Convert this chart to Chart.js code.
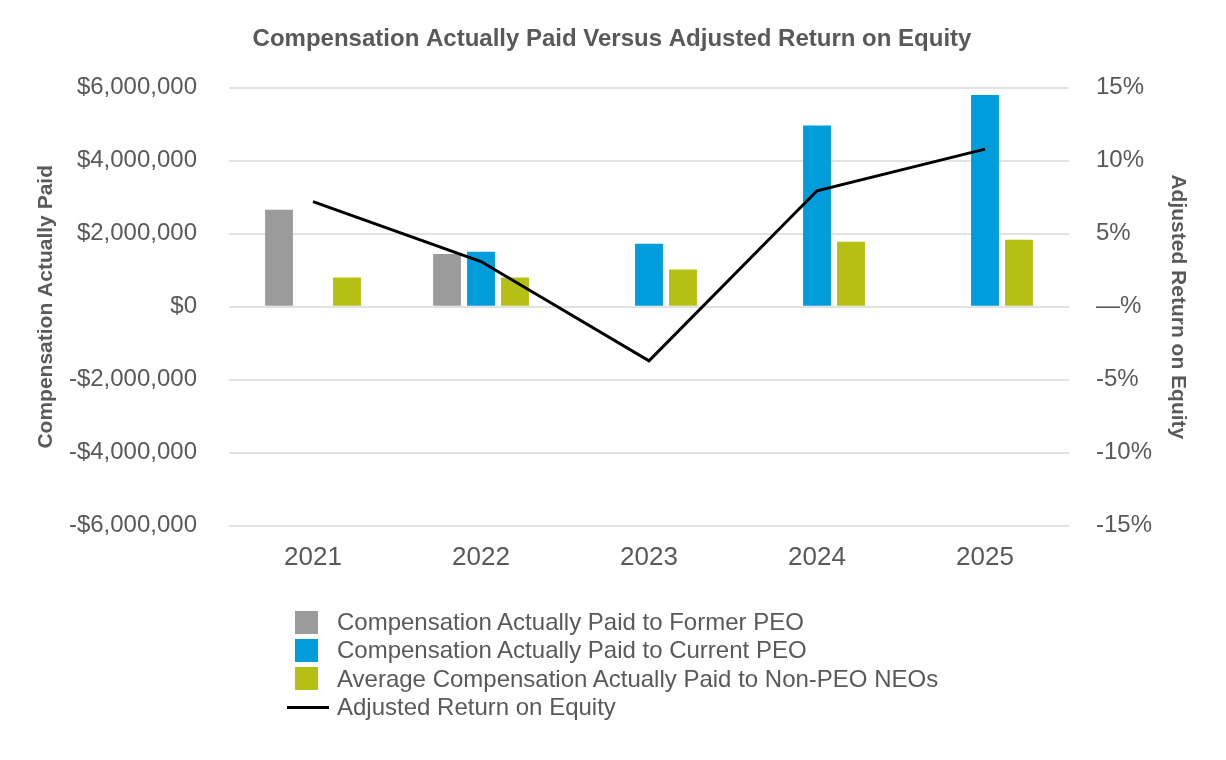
<!DOCTYPE html>
<html>
<head>
<meta charset="utf-8">
<script src="https://cdn.jsdelivr.net/npm/chart.js@4"></script>
<style>
  html, body { margin: 0; padding: 0; background: #fff; }
  #wrap { position: relative; width: 1226px; height: 760px; }
  #leyenda { position: absolute; left: 285px; top: 608px; font-family: "Liberation Sans", Arial, sans-serif; font-size: 24px; color: #595959; }
  .item { display: flex; align-items: center; height: 28.3px; white-space: nowrap; }
  .marca { width: 52px; display: flex; justify-content: flex-start; align-items: center; }
</style>
</head>
<body>
<div id="wrap">
  <canvas id="myChart" width="1226" height="760"></canvas>
  <div id="leyenda"></div>
</div>
<script>
var anios = ['2021', '2022', '2023', '2024', '2025'];
var capExPeo = [2660000, 1450000, null, null, null];   // Former PEO
var capActualPeo = [null, 1510000, 1730000, 4970000, 5800000]; // Current PEO
var capNoPeo = [800000, 800000, 1020000, 1780000, 1840000]; // Non-PEO NEOs
var roeAjustado = [7.2, 3.1, -3.7, 7.95, 10.8]; // Adjusted ROE (%)

var colorTexto = '#595959';
var fuente = '"Liberation Sans", Arial, sans-serif';

function formatoDolar(v) {
    if (v === 0) return '$0';
    var s = '$' + Math.abs(v).toLocaleString('en-US');
    return v < 0 ? '-' + s : s;
}

var ctx = document.getElementById('myChart').getContext('2d');
var myChart = new Chart(ctx, {
    type: 'bar',
    data: {
        labels: anios,
        datasets: [
            {
                label: 'Compensation Actually Paid to Former PEO',
                data: capExPeo,
                backgroundColor: '#9b9b9b',
                yAxisID: 'y',
                order: 1
            },
            {
                label: 'Compensation Actually Paid to Current PEO',
                data: capActualPeo,
                backgroundColor: '#009ddc',
                yAxisID: 'y',
                order: 1
            },
            {
                label: 'Average Compensation Actually Paid to Non-PEO NEOs',
                data: capNoPeo,
                backgroundColor: '#b6bf14',
                yAxisID: 'y',
                order: 1
            },
            {
                type: 'line',
                label: 'Adjusted Return on Equity',
                data: roeAjustado,
                borderColor: '#000000',
                backgroundColor: '#000000',
                borderWidth: 3,
                pointRadius: 0,
                tension: 0,
                yAxisID: 'y1',
                order: 0
            }
        ]
    },
    options: {
        responsive: false,
        animation: false,
        categoryPercentage: 0.607,
        barPercentage: 0.82,
        layout: { padding: { left: 30, right: 32, top: 10, bottom: 171 } },
        plugins: {
            legend: { display: false },
            tooltip: { enabled: false },
            title: {
                display: true,
                text: 'Compensation Actually Paid Versus Adjusted Return on Equity',
                color: colorTexto,
                font: { family: fuente, size: 24, weight: 'bold' },
                padding: { top: 15, bottom: 34 }
            }
        },
        scales: {
            x: {
                grid: { display: false, drawTicks: false },
                border: { display: false },
                ticks: { color: colorTexto, font: { family: fuente, size: 26 }, padding: 16 }
            },
            y: {
                position: 'left',
                min: -6000000,
                max: 6000000,
                afterFit: function (scale) { scale.width = 199; },
                ticks: {
                    stepSize: 2000000,
                    color: colorTexto,
                    font: { family: fuente, size: 24 },
                    padding: 32,
                    callback: function (v) { return formatoDolar(v); }
                },
                grid: { color: '#e2e2e2', lineWidth: 2, drawTicks: false },
                border: { display: false },
                title: {
                    display: true,
                    text: 'Compensation Actually Paid',
                    color: colorTexto,
                    font: { family: fuente, size: 21, weight: 'bold' },
                    padding: { top: 4, bottom: 4 }
                }
            },
            y1: {
                position: 'right',
                min: -15,
                max: 15,
                afterFit: function (scale) { scale.width = 125; },
                ticks: {
                    stepSize: 5,
                    color: colorTexto,
                    font: { family: fuente, size: 24 },
                    padding: 27,
                    callback: function (v) { return v === 0 ? '\u2014%' : v + '%'; }
                },
                grid: { display: false, drawTicks: false },
                border: { display: false },
                title: {
                    display: true,
                    text: 'Adjusted Return on Equity',
                    color: colorTexto,
                    font: { family: fuente, size: 21, weight: 'bold' },
                    padding: { top: 4, bottom: 4 }
                }
            }
        }
    }
});

// leyenda en HTML, vertical como la original
function armarLeyenda() {
    var div = document.getElementById('leyenda');
    div.innerHTML = '';
    myChart.data.datasets.forEach(function (ds) {
        var fila = document.createElement('div');
        fila.className = 'item';
        var marca = document.createElement('span');
        marca.className = 'marca';
        var m = document.createElement('span');
        if (ds.type === 'line') {
            m.style.width = '42px';
            m.style.height = '3px';
            m.style.marginLeft = '2px';
            m.style.background = ds.borderColor;
        } else {
            m.style.width = '23px';
            m.style.height = '23px';
            m.style.marginLeft = '10px';
            m.style.background = ds.backgroundColor;
        }
        marca.appendChild(m);
        var txt = document.createElement('span');
        txt.textContent = ds.label;
        fila.appendChild(marca);
        fila.appendChild(txt);
        div.appendChild(fila);
    });
}
armarLeyenda();
</script>
</body>
</html>
